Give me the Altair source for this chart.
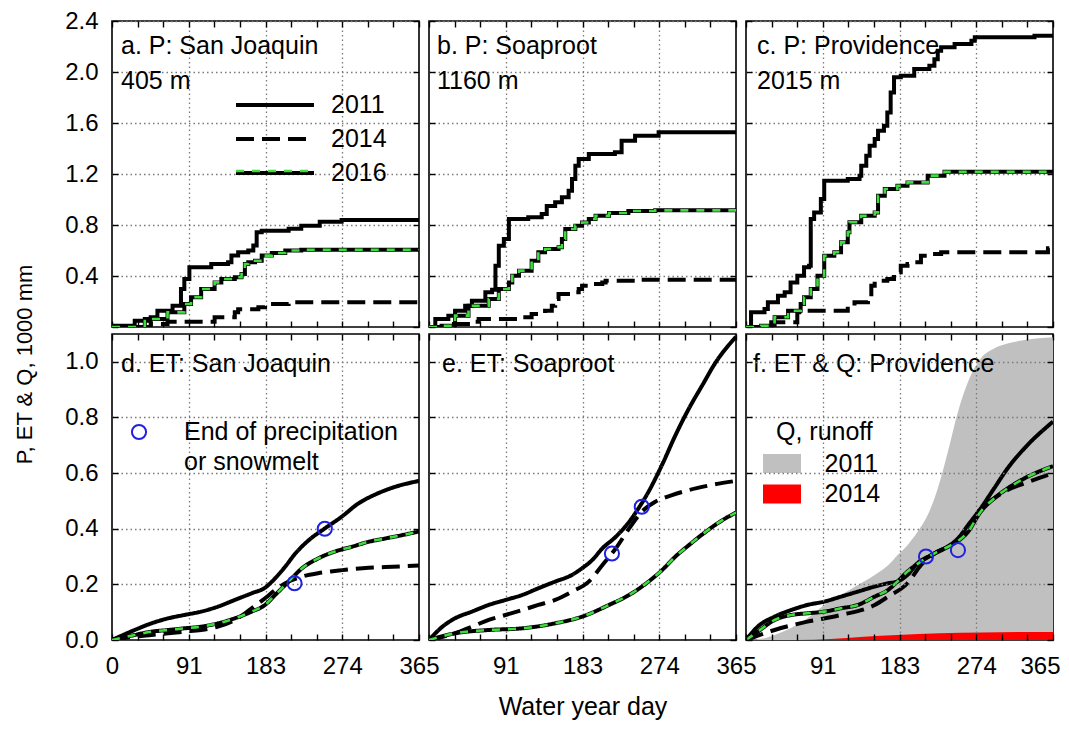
import altair as alt
import pandas as pd

FONT = "Liberation Sans"
GREEN = "#3fdc3f"
BLUE = "#2020e0"
GRAY = "#c0c0c0"
RED = "#ff0000"
YEARS = ["2011", "2014", "2016"]

# ---------------- tick positions / labels ----------------
X_TICKS = [0, 30.42, 60.83, 91.25, 121.67, 152.08, 182.5, 212.92, 243.33, 273.75, 304.17, 334.58, 365]
Y_TOP_TICKS = [0, 0.4, 0.8, 1.2, 1.6, 2.0, 2.4]
Y_BOT_TICKS = [0, 0.2, 0.4, 0.6, 0.8, 1.0]

PANEL_TITLES = ["a. P: San Joaquin", "b. P: Soaproot", "c. P: Providence",
                "d. ET: San Joaquin", "e. ET: Soaproot", "f. ET & Q: Providence"]
ELEVATIONS = ["405 m", "1160 m", "2015 m"]
EOP_LABELS = ["End of precipitation", "or snowmelt"]
Q_YEARS = ["2011", "2014"]

# ---------------- cumulative precipitation (1000 mm) ----------------
P_SJ_2011_DAY = [0, 3, 27, 46, 54, 72, 82, 86, 92, 118, 138, 142, 150, 162, 168, 172, 178, 210, 225, 247, 273, 365]
P_SJ_2011_VAL = [0, 0.01, 0.05, 0.076, 0.128, 0.167, 0.298, 0.376, 0.468, 0.494, 0.507, 0.56, 0.586, 0.6, 0.64, 0.743, 0.755, 0.77, 0.795, 0.826, 0.84, 0.84]
P_SJ_2014_DAY = [0, 46, 66, 122, 146, 150, 174, 182, 210, 365]
P_SJ_2014_VAL = [0, 0.024, 0.042, 0.076, 0.115, 0.14, 0.154, 0.18, 0.194, 0.2]
P_SJ_2016_DAY = [0, 39, 66, 86, 94, 106, 122, 130, 146, 154, 158, 162, 170, 178, 190, 206, 225, 365]
P_SJ_2016_VAL = [0, 0.063, 0.115, 0.18, 0.233, 0.298, 0.35, 0.376, 0.39, 0.416, 0.494, 0.507, 0.52, 0.56, 0.58, 0.6, 0.606, 0.61]

P_SO_2011_DAY = [0, 7.5, 23, 31, 43, 51, 67, 75, 79, 83, 89, 95, 118, 134, 140, 150, 158, 166, 170, 174, 178, 190, 221, 229, 245, 273, 365]
P_SO_2011_VAL = [0, 0.063, 0.089, 0.128, 0.167, 0.206, 0.272, 0.293, 0.48, 0.638, 0.69, 0.847, 0.86, 0.886, 0.95, 0.978, 1.017, 1.069, 1.16, 1.265, 1.318, 1.357, 1.37, 1.461, 1.5, 1.527, 1.532]
P_SO_2014_DAY = [0, 23, 51, 59, 111, 122, 138, 146, 150, 154, 170, 178, 182, 194, 206, 210, 245, 365]
P_SO_2014_VAL = [0, 0.024, 0.042, 0.063, 0.076, 0.102, 0.128, 0.167, 0.22, 0.259, 0.272, 0.298, 0.324, 0.337, 0.35, 0.363, 0.371, 0.382]
P_SO_2016_DAY = [0, 15, 31, 47, 71, 83, 95, 99, 107, 122, 130, 138, 154, 158, 162, 174, 182, 190, 198, 214, 237, 269, 365]
P_SO_2016_VAL = [0, 0.01, 0.089, 0.167, 0.22, 0.298, 0.35, 0.402, 0.442, 0.52, 0.586, 0.612, 0.625, 0.69, 0.769, 0.795, 0.82, 0.847, 0.873, 0.894, 0.91, 0.915, 0.918]

P_PR_2011_DAY = [0, 6, 22, 26, 38, 46, 53, 61, 69, 75, 77, 81, 89, 93, 121, 135, 137, 143, 147, 153, 157, 164, 168, 172, 176, 184, 200, 218, 224, 228, 232, 248, 268, 272, 343, 365]
P_PR_2011_VAL = [0, 0.115, 0.141, 0.194, 0.246, 0.272, 0.35, 0.402, 0.468, 0.48, 0.847, 0.899, 1.004, 1.148, 1.16, 1.187, 1.265, 1.344, 1.422, 1.475, 1.54, 1.579, 1.683, 1.84, 1.958, 1.971, 2.024, 2.05, 2.1, 2.167, 2.194, 2.22, 2.246, 2.272, 2.285, 2.298]
P_PR_2014_DAY = [0, 30, 61, 73, 121, 129, 145, 149, 153, 168, 176, 184, 192, 200, 208, 216, 232, 359, 365]
P_PR_2014_VAL = [0, 0.037, 0.115, 0.128, 0.167, 0.194, 0.233, 0.324, 0.363, 0.376, 0.429, 0.481, 0.494, 0.507, 0.559, 0.572, 0.586, 0.617, 0.62]
P_PR_2016_DAY = [0, 18, 34, 50, 65, 69, 77, 85, 93, 105, 113, 121, 123, 137, 153, 157, 165, 180, 192, 216, 236, 365]
P_PR_2016_VAL = [0, 0.01, 0.076, 0.128, 0.18, 0.233, 0.298, 0.402, 0.559, 0.586, 0.664, 0.743, 0.821, 0.873, 0.899, 1.03, 1.082, 1.108, 1.134, 1.187, 1.218, 1.22]

# ---------------- cumulative ET (1000 mm) ----------------
ET_SJ_2011_DAY = [0, 27, 47, 67, 86, 106, 126, 146, 166, 182, 194, 206, 218, 234, 253, 273, 293, 313, 333, 365]
ET_SJ_2011_VAL = [0, 0.036, 0.06, 0.078, 0.09, 0.102, 0.12, 0.144, 0.168, 0.188, 0.222, 0.264, 0.311, 0.359, 0.401, 0.443, 0.491, 0.523, 0.547, 0.572]
ET_SJ_2014_DAY = [0, 27, 47, 67, 86, 106, 126, 146, 166, 182, 194, 210, 226, 245, 265, 285, 305, 325, 365]
ET_SJ_2014_VAL = [0, 0.012, 0.018, 0.024, 0.03, 0.036, 0.048, 0.072, 0.114, 0.15, 0.18, 0.21, 0.228, 0.24, 0.248, 0.255, 0.26, 0.262, 0.268]
ET_SJ_2016_DAY = [0, 27, 47, 67, 86, 106, 126, 146, 166, 182, 194, 210, 226, 245, 265, 285, 305, 325, 345, 365]
ET_SJ_2016_VAL = [0, 0.018, 0.03, 0.036, 0.042, 0.048, 0.06, 0.078, 0.102, 0.126, 0.162, 0.21, 0.258, 0.293, 0.318, 0.335, 0.353, 0.365, 0.377, 0.39]

ET_SO_2011_DAY = [0, 16, 31, 51, 71, 91, 111, 130, 150, 170, 182, 194, 206, 222, 238, 249, 261, 277, 293, 309, 325, 340, 365]
ET_SO_2011_VAL = [0, 0.048, 0.078, 0.102, 0.126, 0.144, 0.162, 0.186, 0.21, 0.234, 0.258, 0.287, 0.329, 0.371, 0.425, 0.473, 0.533, 0.629, 0.736, 0.832, 0.916, 0.994, 1.09]
ET_SO_2014_DAY = [0, 31, 51, 71, 91, 111, 130, 150, 170, 190, 206, 222, 238, 253, 269, 289, 309, 329, 365]
ET_SO_2014_VAL = [0, 0.024, 0.048, 0.072, 0.09, 0.108, 0.126, 0.144, 0.174, 0.21, 0.269, 0.329, 0.401, 0.461, 0.497, 0.521, 0.539, 0.553, 0.572]
ET_SO_2016_DAY = [0, 31, 71, 111, 150, 182, 214, 238, 261, 277, 293, 309, 329, 349, 365]
ET_SO_2016_VAL = [0, 0.024, 0.036, 0.042, 0.06, 0.084, 0.126, 0.162, 0.21, 0.251, 0.3, 0.341, 0.389, 0.431, 0.458]

ET_PR_2011_DAY = [0, 14, 34, 54, 73, 93, 113, 133, 153, 169, 180, 192, 204, 220, 236, 252, 264, 279, 295, 311, 331, 365]
ET_PR_2011_VAL = [0, 0.048, 0.084, 0.108, 0.126, 0.138, 0.156, 0.174, 0.192, 0.204, 0.21, 0.234, 0.276, 0.305, 0.329, 0.365, 0.413, 0.473, 0.545, 0.617, 0.689, 0.785]
ET_PR_2014_DAY = [0, 34, 73, 113, 153, 169, 192, 208, 228, 244, 264, 279, 295, 311, 331, 365]
ET_PR_2014_VAL = [0, 0.036, 0.066, 0.09, 0.126, 0.156, 0.204, 0.269, 0.318, 0.341, 0.395, 0.473, 0.509, 0.539, 0.563, 0.6]
ET_PR_2016_DAY = [0, 14, 34, 54, 73, 93, 113, 133, 153, 169, 180, 192, 208, 228, 244, 264, 279, 295, 311, 331, 365]
ET_PR_2016_VAL = [0, 0.03, 0.072, 0.09, 0.096, 0.102, 0.114, 0.126, 0.156, 0.18, 0.21, 0.246, 0.282, 0.318, 0.341, 0.389, 0.461, 0.509, 0.545, 0.581, 0.625]

# ---------------- runoff at Providence (1000 mm) ----------------
Q_2011_DAY = [0, 20, 34, 73, 93, 113, 133, 153, 169, 180, 192, 204, 216, 228, 240, 252, 264, 279, 295, 311, 331, 365]
Q_2011_VAL = [0, 0.005, 0.018, 0.078, 0.126, 0.162, 0.198, 0.234, 0.269, 0.305, 0.341, 0.389, 0.449, 0.545, 0.677, 0.82, 0.928, 1.012, 1.048, 1.066, 1.078, 1.088]
Q_2014_DAY = [0, 60, 100, 140, 180, 230, 280, 365]
Q_2014_VAL = [0, 0, 0.004, 0.012, 0.018, 0.024, 0.027, 0.029]

# ---------------- end of precipitation / snowmelt markers ----------------
EOP_SJ_DAY = [253, 217]
EOP_SJ_VAL = [0.40, 0.204]
EOP_SO_DAY = [217.5, 253]
EOP_SO_VAL = [0.311, 0.479]
EOP_PR_DAY = [214, 252]
EOP_PR_VAL = [0.30, 0.323]


def long_df(series):
    rows = []
    for yr, (days, vals) in series.items():
        for d, v in zip(days, vals):
            rows.append({"day": d, "value": v, "year": yr})
    return pd.DataFrame(rows)


PANELS = [
    long_df({"2011": (P_SJ_2011_DAY, P_SJ_2011_VAL), "2014": (P_SJ_2014_DAY, P_SJ_2014_VAL), "2016": (P_SJ_2016_DAY, P_SJ_2016_VAL)}),
    long_df({"2011": (P_SO_2011_DAY, P_SO_2011_VAL), "2014": (P_SO_2014_DAY, P_SO_2014_VAL), "2016": (P_SO_2016_DAY, P_SO_2016_VAL)}),
    long_df({"2011": (P_PR_2011_DAY, P_PR_2011_VAL), "2014": (P_PR_2014_DAY, P_PR_2014_VAL), "2016": (P_PR_2016_DAY, P_PR_2016_VAL)}),
    long_df({"2011": (ET_SJ_2011_DAY, ET_SJ_2011_VAL), "2014": (ET_SJ_2014_DAY, ET_SJ_2014_VAL), "2016": (ET_SJ_2016_DAY, ET_SJ_2016_VAL)}),
    long_df({"2011": (ET_SO_2011_DAY, ET_SO_2011_VAL), "2014": (ET_SO_2014_DAY, ET_SO_2014_VAL), "2016": (ET_SO_2016_DAY, ET_SO_2016_VAL)}),
    long_df({"2011": (ET_PR_2011_DAY, ET_PR_2011_VAL), "2014": (ET_PR_2014_DAY, ET_PR_2014_VAL), "2016": (ET_PR_2016_DAY, ET_PR_2016_VAL)}),
]
EOP = {3: (EOP_SJ_DAY, EOP_SJ_VAL), 4: (EOP_SO_DAY, EOP_SO_VAL), 5: (EOP_PR_DAY, EOP_PR_VAL)}

W, H = 307, 306
TEXT_X = [9, 8, 11, 9, 13, 7]
GRID_X_TEST = "abs(datum.value-91.25)<0.1 || abs(datum.value-182.5)<0.1 || abs(datum.value-273.75)<0.1"
GRID_Y_TEST = "datum.value > 0.01"
LEG_LINE = "M-7.8,0H7.8"


def make_panel(i):
    row, col = divmod(i, 3)
    top = row == 0
    df = PANELS[i]
    interp = "step-after" if top else "monotone"
    xs = alt.Scale(domain=[0, 365], nice=False, zero=False)
    ys = alt.Scale(domain=[0, 2.4] if top else [0, 1.1], nice=False, zero=False)
    yvals = Y_TOP_TICKS if top else Y_BOT_TICKS
    z = 1 if i == 5 else 0

    # bottom x axis (ticks inward, grid, labels)
    xa = dict(orient="bottom", values=X_TICKS, offset=-6, tickSize=6, domain=False, grid=True,
              gridOpacity={"condition": {"test": GRID_X_TEST, "value": 1}, "value": 0},
              zindex=z, labelFlush=(col == 2), labelFlushOffset=7, labelOverlap=False,
              labelPadding=14, minExtent=0)
    if top:
        xa.update(labels=False, title=None)
    else:
        keep = "[0,91,183,274,365]" if col == 0 else "[91,183,274,365]"
        xa.update(labelExpr=f"indexof({keep}, round(datum.value)) >= 0 ? format(round(datum.value), 'd') : ''")
        if col == 1:
            xa.update(title="Water year day", titleX=W / 2, titleY=80, titleBaseline="alphabetic",
                      titleAlign="center", titleFontSize=25)
        else:
            xa.update(title=None)
    x_main = alt.Axis(**xa)

    ya = dict(orient="left", values=yvals, offset=-6, tickSize=6, domain=False, grid=True,
              gridOpacity={"condition": {"test": GRID_Y_TEST, "value": 1}, "value": 0},
              zindex=z, labelPadding=14, minExtent=0)
    if col != 0:
        ya.update(labels=False, title=None)
    else:
        if top:
            ya.update(labelExpr="datum.value < 0.01 ? '' : format(datum.value, '.1f')", title=None)
        else:
            ya.update(labelExpr="format(datum.value, '.1f')", title="P, ET & Q, 1000 mm",
                      titleX=-94, titleY=30, titleFontSize=22, titleBaseline="middle",
                      titleAlign="center", titleAngle=270)
    y_main = alt.Axis(**ya)

    x_top = alt.Axis(orient="top", values=X_TICKS, offset=-6, tickSize=6, domain=False, grid=False,
                     labels=False, title=None, zindex=1, minExtent=0, maxExtent=0)
    y_right = alt.Axis(orient="right", values=yvals, offset=-6, tickSize=6, domain=False, grid=False,
                       labels=False, title=None, zindex=1, minExtent=0, maxExtent=0)

    layers = []

    if i == 5:
        qdf = long_df({"2011": (Q_2011_DAY, Q_2011_VAL), "2014": (Q_2014_DAY, Q_2014_VAL)})
        leg_q = alt.Legend(title="Q, runoff", orient="none", legendX=30, legendY=86,
                           symbolType="M-2,-1H2V1H-2Z", symbolSize=361, symbolOffset=-6.5,
                           symbolStrokeWidth=0, labelOffset=30, rowPadding=4.5, titlePadding=6,
                           labelFontSize=25, titleFontSize=25, padding=0)
        for yr in Q_YEARS:
            layers.append(
                alt.Chart(qdf).transform_filter(f"datum.year == '{yr}'")
                .mark_area(clip=True, interpolate="monotone", opacity=1)
                .encode(
                    x=alt.X("day:Q", scale=xs, axis=None),
                    y=alt.Y("value:Q", scale=ys, stack=None, axis=None),
                    fill=alt.Fill("year:N", scale=alt.Scale(domain=Q_YEARS, range=[GRAY, RED]), legend=leg_q),
                )
            )

    if i == 0:
        leg_a = alt.Legend(title=None, orient="none", legendX=150.5, legendY=71.5,
                           symbolType=LEG_LINE, symbolSize=100, symbolStrokeColor="black",
                           labelOffset=43.5, rowPadding=8, labelFontSize=25, padding=0)
        leg_b = alt.Legend(title=None, orient="none", legendX=150.5, legendY=137.5,
                           symbolType=LEG_LINE, symbolSize=100, symbolDash=[8, 8], symbolStrokeWidth=2.6,
                           labelOffset=43.5, labelColor="transparent", labelFontSize=25, padding=0)
    else:
        leg_a = None
        leg_b = None

    layers.append(
        alt.Chart(df).mark_line(color="black", clip=True, interpolate=interp)
        .encode(
            x=alt.X("day:Q", scale=xs, axis=x_main),
            y=alt.Y("value:Q", scale=ys, axis=y_main),
            strokeDash=alt.StrokeDash("year:N", scale=alt.Scale(domain=YEARS, range=[[1, 0], [18, 8], [1, 0]]), legend=leg_a),
            strokeWidth=alt.StrokeWidth("year:N", scale=alt.Scale(domain=YEARS, range=[4, 4, 2.5]), legend=leg_a),
        )
    )
    layers.append(
        alt.Chart(df).transform_filter("datum.year == '2016'")
        .mark_line(clip=True, interpolate=interp, strokeDash=[8, 8], strokeWidth=2.6)
        .encode(
            x=alt.X("day:Q", scale=xs, axis=x_top),
            y=alt.Y("value:Q", scale=ys, axis=y_right),
            stroke=alt.Stroke("year:N", scale=alt.Scale(domain=["2016"], range=[GREEN]), legend=leg_b),
        )
    )

    if i in EOP:
        d, v = EOP[i]
        cdf = pd.DataFrame({"day": d, "value": v, "lab": [EOP_LABELS[0]] * len(d)})
        leg_c = None
        if i == 3:
            leg_c = alt.Legend(title=None, orient="none", legendX=14.5, legendY=85.5, symbolType="circle",
                               symbolSize=200, symbolStrokeWidth=2, labelOffset=32.5, rowPadding=4,
                               labelFontSize=25, labelLimit=400, padding=0)
        layers.append(
            alt.Chart(cdf).mark_point(filled=False, size=200, strokeWidth=2, opacity=1)
            .encode(
                x=alt.X("day:Q", scale=xs, axis=None),
                y=alt.Y("value:Q", scale=ys, axis=None),
                color=alt.Color("lab:N", scale=alt.Scale(domain=EOP_LABELS, range=[BLUE, "transparent"]), legend=leg_c),
            )
        )

    tx = TEXT_X[i]
    lines = [PANEL_TITLES[i]] + ([ELEVATIONS[i]] if top else [])
    ys_txt = [24.7, 59.7] if top else [30]
    for t, ty in zip(lines, ys_txt):
        layers.append(
            alt.Chart(pd.DataFrame({"t": [t]})).mark_text(align="left", baseline="middle", fontSize=25, font=FONT, color="black")
            .encode(x=alt.value(tx), y=alt.value(ty), text="t:N")
        )

    return alt.layer(*layers).resolve_axis(x="independent", y="independent").properties(width=W, height=H)


panels = [make_panel(i) for i in range(6)]

chart = (
    alt.concat(*panels, columns=3, spacing={"row": 7, "column": 10}, bounds="flush")
    .resolve_scale(strokeDash="independent", strokeWidth="independent", stroke="independent",
                   color="independent", fill="independent")
    .properties(padding={"left": 4, "top": 0, "right": 0, "bottom": 0})
    .configure(font=FONT)
    .configure_view(stroke="black", strokeWidth=1.6)
    .configure_axis(labelFont=FONT, labelFontSize=24, labelColor="black", tickColor="black", tickWidth=1.4,
                    gridColor="#7a7a7a", gridDash=[1.5, 3], gridWidth=1.3, titleFont=FONT,
                    titleFontWeight="normal", titleColor="black")
    .configure_legend(labelFont=FONT, labelColor="black", titleFont=FONT, titleColor="black",
                      titleFontWeight="normal")
)

chart.save("out.html", embed_options={"renderer": "svg", "actions": False})
